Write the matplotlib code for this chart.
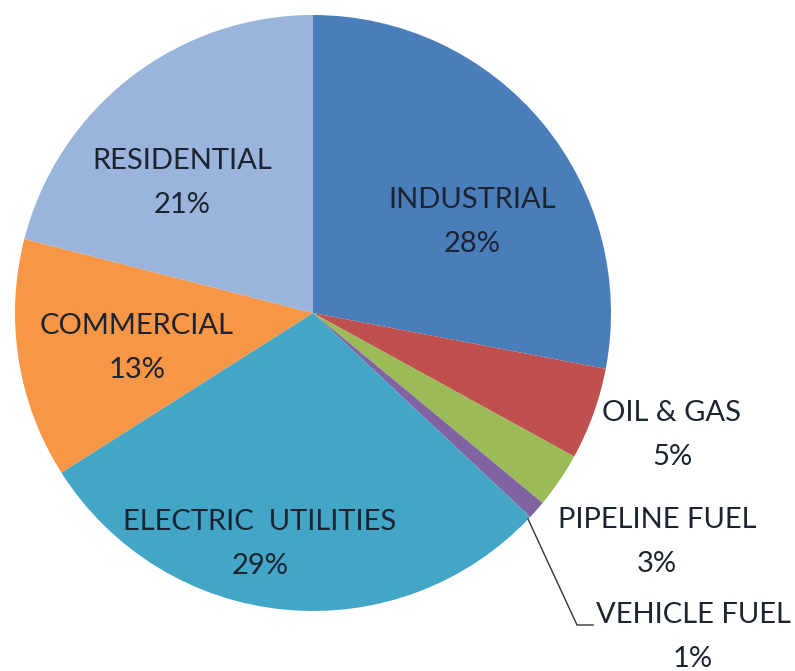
import matplotlib.pyplot as plt

# --- dados ---
sectors = ['INDUSTRIAL', 'OIL & GAS', 'PIPELINE FUEL', 'VEHICLE FUEL',
           'ELECTRIC  UTILITIES', 'COMMERCIAL', 'RESIDENTIAL']
shares = [28, 5, 3, 1, 29, 13, 21]
colors = ['#4A7EBB', '#C0504D', '#9BBB59', '#8064A2',
          '#44A6C6', '#F79646', '#9AB4DC']

W, H = 795, 671
fig = plt.figure(figsize=(W / 100, H / 100), dpi=100)
ax = fig.add_axes([0, 0, 1, 1])
ax.set_xlim(0, W)
ax.set_ylim(0, H)
ax.set_aspect('equal')
ax.axis('off')

cx, cy, r = 313, H - 313, 298
ax.pie(shares, colors=colors, startangle=90, counterclock=False,
       center=(cx, cy), radius=r, frame=True,
       wedgeprops=dict(linewidth=0))
ax.set_xlim(0, W)
ax.set_ylim(0, H)
ax.axis('off')

# posicoes das etiquetas (pixels a partir do topo)
label_pos = {
    'INDUSTRIAL': (472, 222),
    'OIL & GAS': (672, 435),
    'PIPELINE FUEL': (657, 542),
    'VEHICLE FUEL': (693, 637),
    'ELECTRIC  UTILITIES': (260, 544),
    'COMMERCIAL': (137, 348),
    'RESIDENTIAL': (182, 183),
}
font = ['Lato', 'DejaVu Sans']
for name, val in zip(sectors, shares):
    x, y = label_pos[name]
    ax.text(x, H - y, f"{name}\n{val}%", ha='center', va='center',
            fontsize=21, family=font, color='#1b2430', linespacing=1.83)

# linha de chamada do vehicle fuel
ax.plot([528, 577, 593], [H - 519, H - 625, H - 625], color='#333333', lw=1)

fig.savefig('out.png', dpi=100, facecolor='white')
